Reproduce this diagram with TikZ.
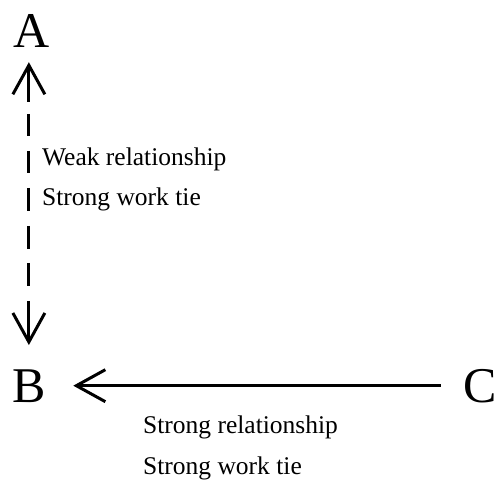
\documentclass[tikz,border=0pt]{standalone}
\usepackage{fontspec}
\setmainfont{Liberation Serif}
\usetikzlibrary{arrows.meta}
\tikzset{
  letter/.style={inner sep=0pt, font=\fontsize{50}{60}\selectfont, anchor=base west},
  lbl/.style={inner sep=0pt, font=\fontsize{25.5}{30}\selectfont, anchor=base west},
  barb/.style={-{Straight Barb[length=29pt,width=32pt,line width=3pt]}},
  dbarb/.style={{Straight Barb[length=29pt,width=32pt,line width=3pt]}-{Straight Barb[length=29pt,width=32pt,line width=3pt]}},
  conn/.style={line width=3pt, black},
}
\begin{document}
\begin{tikzpicture}[x=1pt,y=-1pt]
\useasboundingbox (0,0) rectangle (496,482);
\node[letter] (A) at (13,47) {A};
\node[letter] (B) at (12,402) {B};
\node[letter] (C) at (463.5,402) {C};
\node[lbl] (t1) at (42,165) {Weak relationship};
\node[lbl] (t2) at (42,205) {Strong work tie};
\node[lbl] (t3) at (143,433) {Strong relationship};
\node[lbl] (t4) at (143,474) {Strong work tie};
\draw[conn, dbarb, shorten <=15pt, shorten >=24pt,
  dash pattern=on 35pt off 12pt on 22pt off 15pt on 22pt off 15pt on 23pt off 15pt on 23pt off 14pt on 23pt off 15pt on 60pt]
  (A.south -| B.north) -- (B.north);
\draw[conn, barb, shorten <=23pt, shorten >=27.5pt] (C.west) -- (C.west -| B.east);
\end{tikzpicture}
\end{document}
